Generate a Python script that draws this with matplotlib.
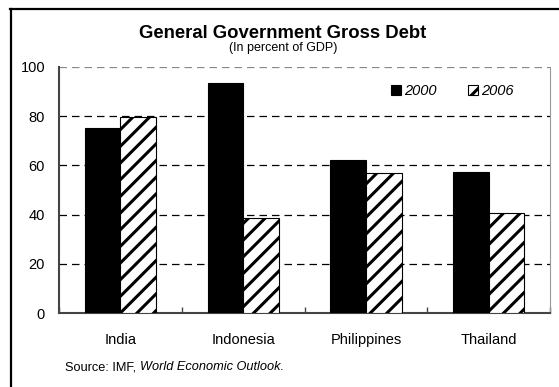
import numpy as np
import matplotlib
matplotlib.use("Agg")
import matplotlib.pyplot as plt
from matplotlib.lines import Line2D

plt.rcParams['font.family'] = ['Liberation Sans', 'DejaVu Sans']
plt.rcParams['hatch.linewidth'] = 2.2

countries = ["India", "Indonesia", "Philippines", "Thailand"]
debt_2000 = [75.2, 93.5, 62.2, 57.2]
debt_2006 = [79.8, 38.7, 56.8, 40.5]
yticks = [0, 20, 40, 60, 80, 100]

fig = plt.figure(figsize=(5.59, 3.87), dpi=100)
ax = fig.add_axes([0.1055, 0.191, 0.8785, 0.636])

x = np.arange(len(countries))
w = 0.29
ax.bar(x - w / 2, debt_2000, w, color="black", edgecolor="black", lw=0.8,
       label="2000", zorder=3)
ax.bar(x + w / 2, debt_2006, w, color="white", edgecolor="black", lw=0.8,
       hatch="//", label="2006", zorder=3)

ax.set_xlim(-0.5, len(countries) - 0.5)
ax.set_ylim(0, 100)
ax.set_yticks(yticks)
ax.tick_params(axis="y", length=0, pad=10, labelsize=10.5)
ax.set_xticks(x)
ax.set_xticklabels(countries, fontsize=10.5)
ax.tick_params(axis="x", which="major", length=0, pad=14)
ax.set_xticks(np.arange(-0.5, len(countries)), minor=True)
ax.tick_params(axis="x", which="minor", direction="in", length=4,
               width=1, color="#444444")

for v in [20, 40, 60, 80]:
    ax.axhline(v, color="black", lw=0.9, ls=(0, (6, 4)), zorder=1)
ax.axhline(100, color="#888888", lw=0.9, ls=(0, (6, 4)), zorder=1)

ax.spines["top"].set_visible(False)
ax.spines["right"].set_color("#999999")
ax.spines["right"].set_linewidth(0.8)
ax.spines["left"].set_color("#444444")
ax.spines["left"].set_linewidth(1.5)
ax.spines["bottom"].set_color("#444444")
ax.spines["bottom"].set_linewidth(1.5)

ax.legend(loc="center", bbox_to_anchor=(0.809, 0.765),
          bbox_transform=fig.transFigure, ncol=2, frameon=False,
          handlelength=0.7, handleheight=0.7, handletextpad=0.25,
          columnspacing=2.1, prop={"style": "italic", "size": 10.5})

fig.text(0.506, 1 - 34 / 387, "General Government Gross Debt",
         ha="center", va="center", fontsize=13.3, fontweight="bold")
fig.text(0.506, 1 - 47.5 / 387, "(In percent of GDP)",
         ha="center", va="center", fontsize=9)

fig.text(65 / 559, 1 - 367 / 387, "Source: IMF,", ha="left", va="center",
         fontsize=9.2)
fig.text(140 / 559, 1 - 367 / 387, "World Economic Outlook.", ha="left",
         va="center", fontsize=9.2, style="italic")

fig.add_artist(Line2D([11 / 559, 11 / 559], [0, 1 - 9 / 387],
                      transform=fig.transFigure, color="black", lw=1.6))
fig.add_artist(Line2D([10.3 / 559, 1], [1 - 9 / 387, 1 - 9 / 387],
                      transform=fig.transFigure, color="black", lw=1.6))

fig.savefig("out.png", dpi=100)
